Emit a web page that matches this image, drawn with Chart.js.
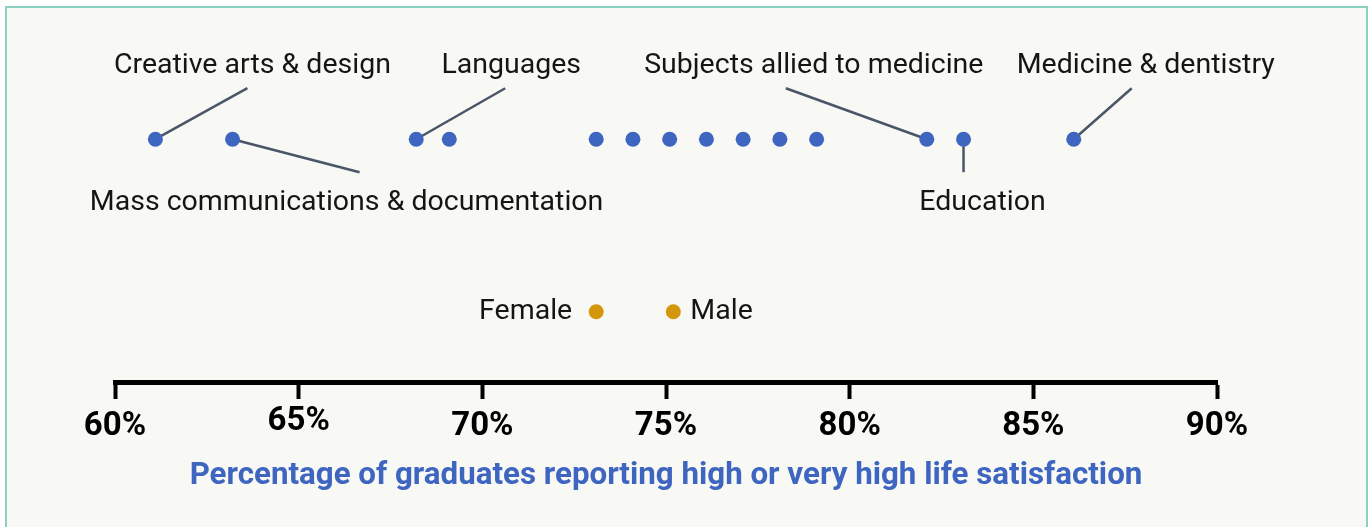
<!DOCTYPE html>
<html>
<head>
<meta charset="utf-8">
<script src="https://cdn.jsdelivr.net/npm/chart.js@4"></script>
<style>
  html, body { margin: 0; padding: 0; background: #ffffff; overflow: hidden; }
  #frame {
    position: absolute; left: 5px; top: 6px; width: 1359px; height: 540px;
    border: 2px solid #8bd0c1; background: #f8f8f4;
  }
  #chart { position: absolute; left: 0; top: 0; }
</style>
</head>
<body>
<div id="frame"></div>
<canvas id="chart" width="1370" height="527"></canvas>
<script>
// Subject areas (percent reporting high / very high life satisfaction)
const subjectValues = [61.1, 63.2, 68.2, 69.1, 73.1, 74.1, 75.1, 76.1, 77.1, 78.1, 79.1, 82.1, 83.1, 86.1];
const subjectNames = [
  'Creative arts & design', 'Mass communications & documentation', 'Languages', '',
  '', '', '', '', '', '', '',
  'Subjects allied to medicine', 'Education', 'Medicine & dentistry'
];
// Gender averages
const genderNames = ['Female', 'Male'];
const genderValues = [73.1, 75.2];
// Axis
const tickValues = [60, 65, 70, 75, 80, 85, 90];
const axisTitle = 'Percentage of graduates reporting high or very high life satisfaction';

const BLUE = '#3e65c0';
const GOLD = '#d4960b';
const SUBJECT_ROW = 7.12;
const GENDER_ROW = 2.06;

// leader line end and label centre, offsets from the dot in px
const callouts = {
  0: { line: [92, -51], text: [97, -73] },
  1: { line: [127, 33], text: [114, 64] },
  2: { line: [89, -51], text: [95, -73] },
  11: { line: [-141, -51], text: [-113, -73] },
  12: { line: [0, 33], text: [19, 64] },
  13: { line: [58, -51], text: [72, -73] }
};

const labelFont = '28.5px Roboto';

const calloutPlugin = {
  id: 'callouts',
  beforeDatasetsDraw(chart) {
    const ctx = chart.ctx;
    const meta = chart.getDatasetMeta(0);
    ctx.save();
    ctx.strokeStyle = '#4a5568';
    ctx.lineWidth = 2.5;
    Object.keys(callouts).forEach(i => {
      const p = meta.data[i];
      const c = callouts[i];
      ctx.beginPath();
      ctx.moveTo(p.x, p.y);
      ctx.lineTo(p.x + c.line[0], p.y + c.line[1]);
      ctx.stroke();
    });
    ctx.restore();
  },
  afterDatasetsDraw(chart) {
    const ctx = chart.ctx;
    const meta = chart.getDatasetMeta(0);
    ctx.save();
    ctx.font = labelFont;
    ctx.fillStyle = '#151515';
    ctx.textBaseline = 'middle';
    ctx.textAlign = 'center';
    Object.keys(callouts).forEach(i => {
      const p = meta.data[i];
      const c = callouts[i];
      ctx.fillText(subjectNames[i], p.x + c.text[0], p.y + c.text[1]);
    });
    // gender legend labels beside their dots
    const g = chart.getDatasetMeta(1);
    ctx.textAlign = 'right';
    ctx.fillText(genderNames[0], g.data[0].x - 24, g.data[0].y);
    ctx.textAlign = 'left';
    ctx.fillText(genderNames[1], g.data[1].x + 17, g.data[1].y);
    ctx.restore();
  }
};

const ctx = document.getElementById('chart').getContext('2d');
new Chart(ctx, {
  type: 'scatter',
  data: {
    datasets: [
      {
        label: 'Subjects',
        data: subjectValues.map(v => ({ x: v, y: SUBJECT_ROW })),
        backgroundColor: BLUE,
        borderWidth: 0,
        pointRadius: 7.5
      },
      {
        label: 'Gender',
        data: genderValues.map(v => ({ x: v, y: GENDER_ROW })),
        backgroundColor: GOLD,
        borderWidth: 0,
        pointRadius: 7.5
      }
    ]
  },
  options: {
    responsive: false,
    animation: false,
    events: [],
    layout: { padding: { left: 115, right: 153, top: 41, bottom: 33 } },
    plugins: {
      legend: { display: false },
      tooltip: { enabled: false }
    },
    scales: {
      x: {
        type: 'linear',
        min: 60,
        max: 90,
        afterBuildTicks: axis => { axis.ticks = tickValues.map(v => ({ value: v })); },
        border: { display: true, width: 5, color: '#000000' },
        grid: {
          drawOnChartArea: false,
          drawTicks: true,
          tickLength: 17,
          tickWidth: 4,
          tickColor: '#000000'
        },
        ticks: {
          padding: 8,
          color: '#000000',
          maxRotation: 0,
          font: c => ({
            family: 'Roboto', size: 33, weight: 'bold',
            lineHeight: c.tick && c.tick.value === 65 ? 0.9 : 1.2
          }),
          callback: v => v + '%'
        },
        title: {
          display: true,
          text: axisTitle,
          color: BLUE,
          font: { family: 'Roboto', size: 31.3, weight: 'bold', lineHeight: 1.13 },
          padding: { top: 4, bottom: 0 }
        }
      },
      y: {
        display: false,
        min: 0,
        max: 10
      }
    }
  },
  plugins: [calloutPlugin]
});
</script>
</body>
</html>
